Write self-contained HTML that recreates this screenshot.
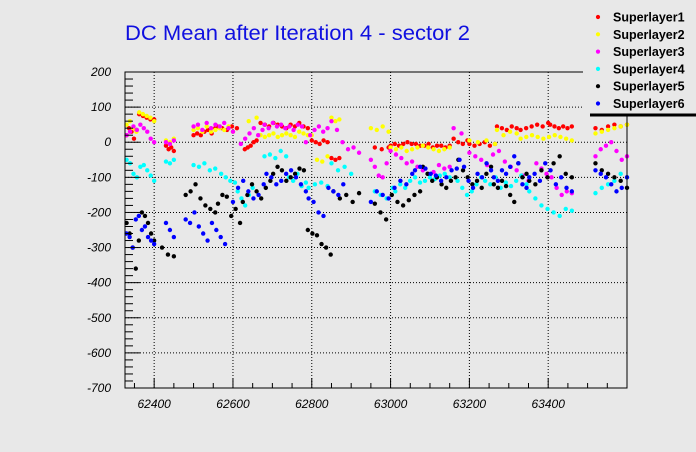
<!DOCTYPE html>
<html><head><meta charset="utf-8"><style>
html,body{margin:0;padding:0;background:#e8e8e8;}
svg{display:block;font-family:"Liberation Sans",Arial,sans-serif;}
</style></head><body>
<svg id="chart" width="696" height="452" viewBox="0 0 696 452">
<rect x="0" y="0" width="696" height="452" fill="#e8e8e8"/>
<text x="125" y="40" font-size="21.5" textLength="345" lengthAdjust="spacingAndGlyphs" fill="#1010e0">DC Mean after Iteration 4 - sector 2</text>
<g id="grid"></g>
<g id="points"></g>
<g id="axes"></g>
<g id="legend"></g>
</svg>
<script>
// Segment data: [startRun, endRun, values...]
const sl1 = [[62330,62355,20,40,30,10,35],[62362,62400,80,75,70,65,65],[62430,62450,-10,-20,-15,-25],[62500,62555,20,25,20,30,35,25,40],[62560,62610,45,40,35,45,40],[62630,62660,-20,-15,-10,0,5],[62670,62790,55,50,45,55,50,45,40,50,45,55,45,40],[62800,62840,5,0,-5,5,0],[62850,62870,-45,-50,-45],[62960,62995,-15,-20,-15],[63000,63150,-10,-5,-10,-5,0,-5,-5,-10,-10,-5,-15,-10,-10,-15,-10],[63160,63195,10,0,-5,5],[63200,63265,-5,-10,-5,0,-10,-5],[63270,63320,45,40,35,45,40],[63330,63400,35,40,45,50,45,55],[63405,63460,50,45,40,45,40,45],[63520,63600,40,35,45,50,45,50]];
const sl2 = [[62330,62355,50,60,40,30],[62362,62400,85,80,75,70,60],[62430,62450,5,0,10],[62500,62600,35,40,30,45,30,35,40,35,45,30],[62640,62660,60,70],[62670,62790,20,15,20,25,15,20,25,20,15,30,25,20],[62800,62840,20,-50,-55,-40],[62850,62870,70,60,65],[62950,62995,40,35,45,30],[63000,63150,-15,-20,-15,-25,-20,-15,-10,-15,-20,-25,-20,-15],[63200,63265,5,0,5,-5],[63270,63320,35,20,30,25],[63330,63460,10,15,20,15,10,15,20,15,10,5],[63520,63600,25,30,35,40,45,50]];
const sl3 = [[62330,62400,20,30,45,35,50,40,30,10,0],[62430,62450,0,-5,5],[62500,62600,45,50,35,55,40,50,45,55,40,30],[62620,62675,-5,10,25,40,20,35],[62680,62775,50,40,55,45,50,40,45,35,50,45],[62785,62840,0,20,35,45,30,40],[62850,62920,60,35,0,-20,-15,-30],[62950,62990,-50,-70,-95,-100,-60],[63000,63150,-25,-35,-45,-60,-55,-70,-80,-90,-85,-65,-75,-70],[63160,63180,40,25],[63200,63350,-30,-40,-50,-65,-35,-25,-55,-70,-80,-95,-110],[63370,63460,-60,-75,-90,-100,-130,-150,-140,-145],[63520,63600,-40,-20,-10,0,-25,-50,-40]];
const sl4 = [[62330,62400,-50,-60,-90,-100,-70,-65,-80,-95,-110],[62430,62450,-55,-60,-50],[62500,62555,-65,-70,-60,-80,-75],[62570,62605,-90,-100,-110,-115],[62612,62650,-140,-160,-180,-150,-130],[62680,62735,-40,-35,-45,-25,-40],[62742,62785,-100,-110,-90,-125,-115],[62792,62840,-130,-120,-115,-125],[62850,62900,-60,-80,-70,-90],[62960,63005,-140,-150,-160,-130],[63012,63150,-140,-120,-130,-110,-100,-115,-110,-100,-105,-95,-90,-100],[63170,63230,-110,-130,-150,-140,-120,-100],[63240,63345,-110,-120,-100,-130,-115,-125,-110,-95,-120],[63352,63460,-140,-160,-180,-190,-200,-210,-190,-195],[63520,63600,-145,-130,-120,-110,-90,-100]];
const sl5 = [[62330,62400,-230,-260,-300,-360,-280,-200,-210,-230,-260,-280],[62420,62450,-300,-320,-325],[62480,62555,-150,-140,-120,-160,-180,-190,-200],[62562,62618,-175,-150,-155,-210,-190,-230],[62625,62695,-170,-150,-120,-140,-160,-130,-110],[62702,62780,-90,-70,-80,-110,-100,-90,-75,-80],[62790,62848,-250,-260,-265,-290,-300,-320],[62855,62920,-140,-160,-150,-170,-145],[62960,63075,-175,-200,-220,-150,-170,-180,-165,-150,-140],[63082,63165,-70,-90,-110,-100,-120,-130,-110,-100],[63172,63255,-50,-80,-100,-120,-110,-130,-90,-70],[63262,63345,-120,-130,-110,-125,-150,-170,-60,-100,-90],[63352,63460,-110,-120,-80,-100,-60,-40,-90,-100],[63520,63600,-60,-80,-90,-100,-110,-130]];
const sl6 = [[62330,62400,-260,-270,-300,-220,-210,-250,-240,-270,-280,-290],[62430,62450,-230,-250,-270],[62480,62580,-220,-230,-200,-240,-260,-280,-230,-250,-270,-290],[62600,62678,-170,-130,-110,-140,-160,-150,-120],[62685,62785,-90,-100,-120,-110,-90,-80,-100,-120,-140],[62792,62880,-160,-170,-200,-210,-130,-140,-150,-120],[62950,63055,-170,-140,-150,-160,-130,-110,-120,-90],[63062,63168,-80,-70,-75,-90,-95,-110,-100,-80,-75],[63175,63255,-50,-70,-110,-130,-90,-100,-60,-80],[63262,63345,-100,-110,-80,-90,-70,-40,-60,-120,-130],[63352,63460,-100,-90,-110,-60,-80,-120,-100,-130,-140],[63520,63600,-80,-90,-100,-120,-140,-130,-100]];
const seriesNames = ["Superlayer1","Superlayer2","Superlayer3","Superlayer4","Superlayer5","Superlayer6"];
const yTicks = [200,100,0,-100,-200,-300,-400,-500,-600,-700];
const xTicks = [62400,62600,62800,63000,63200,63400];

const colors = ["#ff0000","#ffff00","#ff00ff","#00ffff","#000000","#0000ff"];
const L=125,R=627,T=72,B=388, X0=62326,X1=63600,Y0=-700,Y1=200;
const sx=v=>L+(v-X0)/(X1-X0)*(R-L);
const sy=v=>B-(v-Y0)/(Y1-Y0)*(B-T);
const NS="http://www.w3.org/2000/svg";
function mk(tag,attrs,parent){const e=document.createElementNS(NS,tag);for(const k in attrs)e.setAttribute(k,attrs[k]);parent.appendChild(e);return e;}
const grid=document.getElementById('grid'),pts=document.getElementById('points'),axes=document.getElementById('axes'),leg=document.getElementById('legend');

xTicks.forEach(t=>{const l=mk('line',{x1:sx(t),x2:sx(t),y1:T,y2:B,stroke:'#000','stroke-width':1,'stroke-dasharray':'1,2'},grid);

});
yTicks.forEach(t=>{if(t===200||t===-700)return;const l=mk('line',{x1:L,x2:R,y1:sy(t),y2:sy(t),stroke:'#000','stroke-width':1,'stroke-dasharray':'1,2'},grid);

});

[sl1,sl2,sl3,sl4,sl5,sl6].forEach((s,i)=>{
  s.forEach(seg=>{const a=seg[0],b=seg[1],vals=seg.slice(2);const n=vals.length;
    vals.forEach((v,j)=>{const r=n>1?a+(b-a)*j/(n-1):a;
      const c=mk('circle',{cx:sx(r),cy:sy(v),r:2.2,fill:colors[i]},pts);
      
      });});
});

const fr=mk('rect',{x:L,y:T,width:R-L,height:B-T,fill:'none',stroke:'#000','stroke-width':1},axes);


for(let v=-700;v<=200;v+=20){const maj=v%100===0;const l=mk('line',{x1:L,x2:L+(maj?15:8),y1:sy(v),y2:sy(v),stroke:'#000'},axes);

}
for(let v=62350;v<=63600;v+=50){const maj=v%200===0;const l=mk('line',{x1:sx(v),x2:sx(v),y1:B,y2:B-(maj?10:5),stroke:'#000'},axes);

}
yTicks.forEach(t=>{const e=mk('text',{x:111,y:sy(t)+4,'font-size':12,'font-style':'italic','text-anchor':'end',fill:'#000'},axes);e.textContent=t;

});
xTicks.forEach(t=>{const e=mk('text',{x:sx(t),y:408,'font-size':12,'font-style':'italic','text-anchor':'middle',fill:'#000'},axes);e.textContent=t;

});

const lb=mk('rect',{x:583,y:0,width:113,height:115,fill:'#e8e8e8'},leg);


const ll=mk('line',{x1:590,x2:696,y1:115,y2:115,stroke:'#000','stroke-width':3},leg);


seriesNames.forEach((n,i)=>{const y=17+i*17.3;
  const c=mk('circle',{cx:598,cy:y,r:2.1,fill:colors[i]},leg);
  
  
  const t=mk('text',{x:613,y:y+4.5,'font-size':12.5,'font-weight':'bold',fill:'#000'},leg);t.textContent=n;
  
  });
</script>
</body></html>
